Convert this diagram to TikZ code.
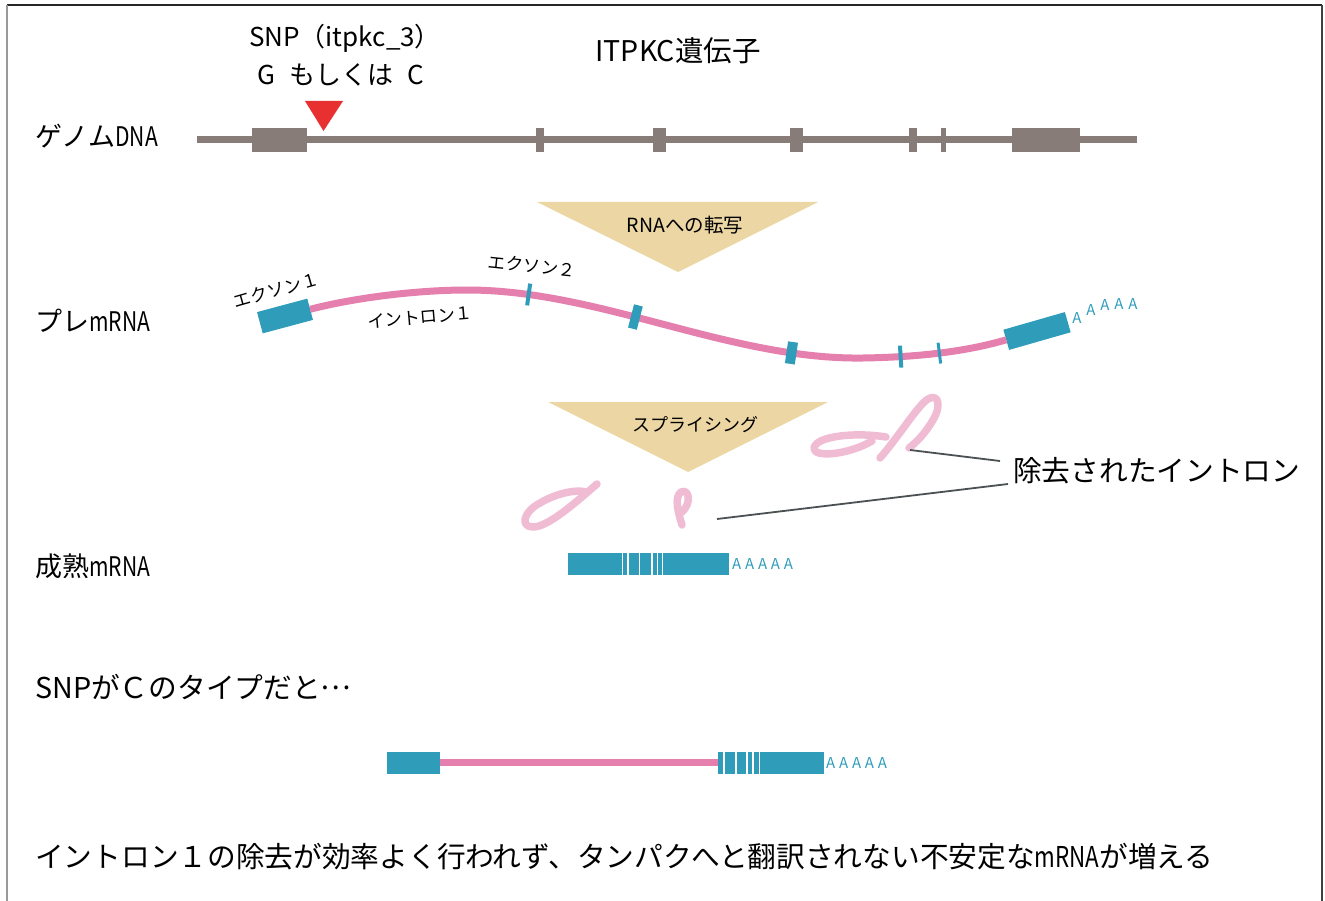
\documentclass[tikz,border=0pt]{standalone}
\usepackage{fontspec}
\usepackage{graphicx}
\setmainfont{Noto Sans CJK JP}
\newcommand\fsz[1]{\fontsize{#1}{#1}\selectfont}
\newcommand\cond[1]{\scalebox{0.78}[1]{#1}}
\newcommand\polyA{A\kern3.8ptA\kern3.8ptA\kern3.8ptA\kern3.8ptA}
\newcommand\midellipsis{\raisebox{0.3em}{…}}
\definecolor{dnagrey}{HTML}{877C78}
\definecolor{exonteal}{HTML}{2F9DBA}
\definecolor{rnapink}{HTML}{E47FAE}
\definecolor{curlpink}{HTML}{F0BCD4}
\definecolor{stepbeige}{HTML}{EBD6A4}
\definecolor{snpred}{HTML}{E83030}
\definecolor{leadgrey}{HTML}{4B5152}
\begin{document}
\begin{tikzpicture}[x=1pt,y=-1pt,
  rowlabel/.style={font=\fsz{27}, anchor=west, inner sep=0pt},
  bodytext/.style={font=\fsz{28.7}, anchor=west, inner sep=0pt},
  title/.style={font=\fsz{26}, inner sep=0pt},
  gline/.style={draw=dnagrey, line width=7pt},
  gexon/.style={fill=dnagrey, inner sep=0pt, outer sep=0pt, minimum height=24pt},
  exonbox/.style={fill=exonteal, inner sep=0pt, outer sep=0pt},
  mk/.style={fill=exonteal, inner sep=0pt, outer sep=0pt, sloped, minimum height=22pt},
  premrna/.style={draw=rnapink, line width=7pt},
  curl/.style={draw=curlpink, line width=7.5pt, line cap=round, line join=round},
  leader/.style={draw=leadgrey, line width=1.8pt},
  gapline/.style={draw=white, line width=1.5pt},
  pa/.style={text=exonteal, font=\fsz{15}, inner sep=0pt},
  small/.style={font=\fsz{17.5}, inner sep=0pt}]
\useasboundingbox (0,0) rectangle (1325,901);

% frame
\draw[line width=1.5pt, black!85] (7,5) -- (1322,5);
\draw[line width=2pt, black!75] (1322,5) -- (1322,901);
\draw[line width=2.5pt, black!40] (7,5) -- (7,901);

% titles
\node[title] (snp) at (345,38) {SNP（itpkc\_3）};
\node[title] (gc) at (341,75) {G\hspace{0.55em}もしくは\hspace{0.55em}C};
\node[title, font=\fsz{28.5}] (gene) at (678,51) {ITPKC遺伝子};

% row labels
\node[rowlabel] (lgenome) at (35,136) {ゲノム\cond{DNA}};
\node[rowlabel] (lpre) at (35,321) {プレ\cond{mRNA}};
\node[rowlabel] (lmature) at (35,566) {成熟\cond{mRNA}};
\node[bodytext] (lsnpc) at (35,687) {SNPがＣのタイプだと\midellipsis};
\node[bodytext] (lresult) at (35,857) {イントロン１の除去が効率よく行われず、タンパクへと翻訳されない不安定な\cond{mRNA}が増える};

% genomic DNA
\coordinate (g0) at (197,140);
\coordinate (g1) at (1137,140);
\draw[gline] (g0) -- (g1);
\node[gexon, minimum width=55pt] (ge1) at (279.5,140) {};
\node[gexon, minimum width=8pt] (ge2) at (540,140) {};
\node[gexon, minimum width=13pt] (ge3) at (659.5,140) {};
\node[gexon, minimum width=13pt] (ge4) at (796.5,140) {};
\node[gexon, minimum width=8pt] (ge5) at (913,140) {};
\node[gexon, minimum width=5pt] (ge6) at (943,140) {};
\node[gexon, minimum width=68pt] (ge7) at (1046,140) {};

% SNP marker
\fill[snpred] (305,101) -- (343,101) -- (323.5,131) -- cycle;

% transcription step
\fill[stepbeige] (537,202) -- (818,202) -- (678,272) -- cycle;
\node[small, font=\fsz{19.5}] (tx) at (685,225) {RNAへの転写};

% pre-mRNA
\node[exonbox, minimum width=52pt, minimum height=22pt, rotate=15] (ex1) at (285,316) {};
\node[exonbox, minimum width=64pt, minimum height=21pt, rotate=16] (ex7) at (1037,331) {};
\draw[premrna] (ex1.east) .. controls (358,297) and (420,290) .. (467,290)
  .. controls (600,290) and (730,360) .. (863,358)
     node[mk, pos=0.155, minimum width=4pt] (ex2) {}
     node[mk, pos=0.425, minimum width=9pt, minimum height=24pt] (ex3) {}
     node[mk, pos=0.82, minimum width=10pt] (ex4) {}
  .. controls (930,357) and (975,349) .. (ex7.west)
     node[mk, pos=0.2, minimum width=4pt] (ex5) {}
     node[mk, pos=0.44, minimum width=3pt, minimum height=21pt] (ex6) {};
\node[pa] (pa1) at (1077,318) {A};
\node[pa] (pa2) at (1091,310) {A};
\node[pa] (pa3) at (1105,305) {A};
\node[pa] (pa4) at (1119,304) {A};
\node[pa] (pa5) at (1133,304) {A};
\node[small, rotate=16] (lex1) at (276,290) {エクソン１};
\node[small, rotate=-6] (lex2) at (532,266) {エクソン２};
\node[small, rotate=5] (lin1) at (420,317) {イントロン１};

% splicing step
\fill[stepbeige] (548,402) -- (828,402) -- (688,472) -- cycle;
\node[small, font=\fsz{18}] (sp) at (695,425) {スプライシング};

% removed introns
\draw[curl] (597,484) .. controls (575,503) and (548,527) .. (533,527)
  .. controls (520,527) and (523,512) .. (540,503)
  .. controls (555,494) and (575,489) .. (586,492);
\draw[curl] (682,525) .. controls (678,512) and (674,497) .. (681,492)
  .. controls (689,488) and (692,503) .. (682,512);
\draw[curl] (886,437) .. controls (855,432) and (816,436) .. (814,448)
  .. controls (813,458) and (848,455) .. (872,441);
\draw[curl] (880,458) .. controls (900,435) and (918,405) .. (928,399)
  .. controls (938,393) and (942,405) .. (933,420)
  .. controls (926,432) and (918,441) .. (909,448);

% leaders
\node[bodytext] (removed) at (1013,471) {除去されたイントロン};
\coordinate (c1) at (910,450);
\coordinate (c2) at (717,519);
\coordinate (r1) at (1000,461);
\coordinate (r2) at (1008,484);
\draw[leader] (c1) -- (r1);
\draw[leader] (c2) -- (r2);

% mature mRNA
\node[exonbox, minimum width=161.3pt, minimum height=22pt] (mat) at (648.35,563.7) {};
\foreach \gx in {622.5,628.2,639.4,652.2,657.4,662.5}
  \draw[gapline] (\gx,552.7) -- (\gx,574.7);
\node[pa, anchor=west] (matpa) at (732,563.5) {\polyA};

% mRNA with intron 1 retained
\node[exonbox, minimum width=53pt, minimum height=22pt] (bex1) at (413.5,762.5) {};
\node[exonbox, minimum width=106pt, minimum height=22pt] (bex2) at (771,762.5) {};
\draw[draw=rnapink, line width=7pt] (bex1.east) -- (bex2.west);
\foreach \gx in {724,735.9,747,753.2,759.3}
  \draw[gapline] (\gx,751.5) -- (\gx,773.5);
\node[pa, anchor=west] (bpa) at (826,762.5) {\polyA};
\end{tikzpicture}
\end{document}
